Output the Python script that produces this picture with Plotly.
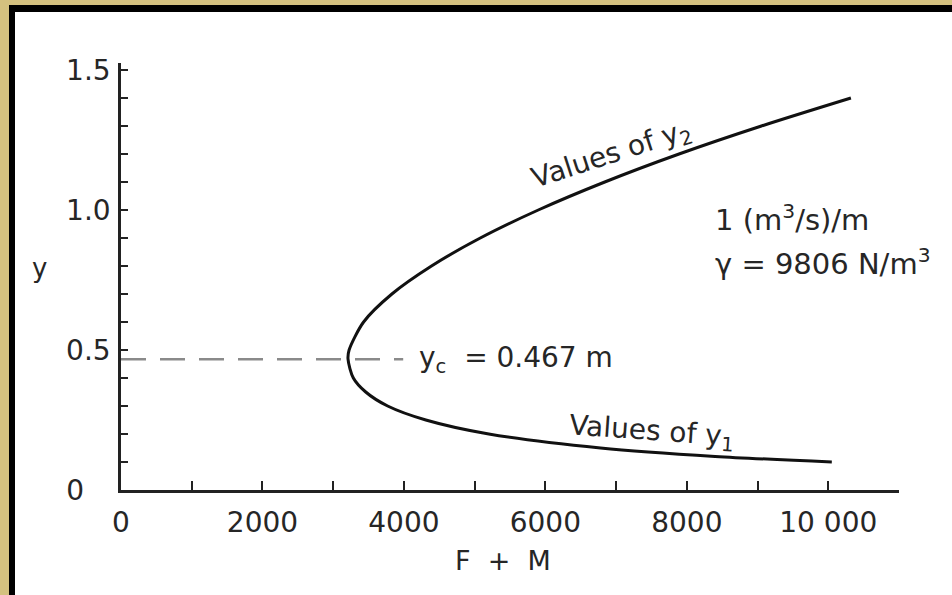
import plotly.graph_objects as go

# Data: depth y (m) vs F + M (N per m width)
depth_y = [0.10, 0.12, 0.15, 0.20, 0.25, 0.30, 0.35, 0.40, 0.467, 0.50, 0.60,
           0.70, 0.80, 0.90, 1.00, 1.10, 1.20, 1.30, 1.40]
f_plus_m = [10050, 8400, 6780, 5200, 4310, 3770, 3460, 3285, 3210, 3225, 3430,
            3830, 4390, 5080, 5900, 6840, 7890, 9055, 10320]
critical_depth = 0.467

x_tick_vals = [0, 1000, 2000, 3000, 4000, 5000, 6000, 7000, 8000, 9000, 10000, 11000]
x_tick_text = ["0", "", "2000", "", "4000", "", "6000", "", "8000", "", "10 000", ""]
y_tick_vals = [0, 0.1, 0.2, 0.3, 0.4, 0.5, 0.6, 0.7, 0.8, 0.9, 1.0, 1.1, 1.2, 1.3, 1.4, 1.5]
y_tick_text = ["0\u00a0\u00a0\u00a0", "", "", "", "", "0.5", "", "", "", "", "1.0", "", "", "", "", "1.5"]

FONT = "DejaVu Sans"
INK = "#262626"

fig = go.Figure()

# dashed critical-depth line
fig.add_trace(go.Scatter(
    x=[0, 3990], y=[critical_depth, critical_depth], mode="lines",
    line=dict(color="#8a8a8a", width=2.5, dash="25px,14px"),
    hoverinfo="skip", showlegend=False))

# curve
fig.add_trace(go.Scatter(
    x=f_plus_m, y=depth_y, mode="lines",
    line=dict(color="#111111", width=3, shape="spline", smoothing=0.8),
    showlegend=False))

annos = [
    dict(x=4185, y=critical_depth, xref="x", yref="y", xanchor="left", yanchor="middle",
         text="y<sub>c</sub>\u00a0\u00a0=\u00a00.467 m", font=dict(size=28)),
    dict(x=8370, y=0.971, xref="x", yref="y", xanchor="left", yanchor="middle",
         text="1 (m<sup>3</sup>/s)/m", font=dict(size=29)),
    dict(x=8370, y=0.814, xref="x", yref="y", xanchor="left", yanchor="middle",
         text="\u03b3\u00a0=\u00a09806 N/m<sup>3</sup>", font=dict(size=29)),
    dict(x=6930, y=1.195, xref="x", yref="y", xanchor="center", yanchor="middle",
         text="Values of y<sub>2</sub>", textangle=-18, font=dict(size=28)),
    dict(x=7507, y=0.205, xref="x", yref="y", xanchor="center", yanchor="middle",
         text="Values of y<sub>1</sub>", textangle=4, font=dict(size=28)),
    dict(x=-0.105, y=0.52, xref="paper", yref="paper", xanchor="center", yanchor="middle",
         text="y", font=dict(size=26)),
    dict(x=5400, y=-0.164, xref="x", yref="paper", xanchor="center", yanchor="middle",
         text="F\u00a0\u00a0+\u00a0\u00a0M", font=dict(size=27)),
]
for a in annos:
    a["showarrow"] = False
    a["font"]["family"] = FONT
    a["font"]["color"] = INK
    fig.add_annotation(**a)

shapes = [
    dict(type="rect", xref="paper", yref="paper", layer="below",
         x0=(9 - 121) / 778, x1=(960 - 121) / 778,
         y0=(490 - 600) / 427, y1=(490 - 5) / 427,
         fillcolor="#000000", line=dict(width=0)),
    dict(type="rect", xref="paper", yref="paper", layer="below",
         x0=(15 - 121) / 778, x1=(960 - 121) / 778,
         y0=(490 - 600) / 427, y1=(490 - 12) / 427,
         fillcolor="#ffffff", line=dict(width=0)),
]

fig.update_layout(
    width=952, height=595,
    margin=dict(l=121, r=53, t=63, b=105),
    paper_bgcolor="#d4c17f",
    plot_bgcolor="rgba(0,0,0,0)",
    font=dict(family=FONT, color=INK),
    shapes=shapes,
    xaxis=dict(range=[0, 11000], tickvals=x_tick_vals, ticktext=x_tick_text,
               ticks="inside", ticklen=9, tickwidth=2, tickcolor="#222",
               showline=True, linecolor="#222", linewidth=2.5,
               showgrid=False, zeroline=False,
               tickfont=dict(size=28, family=FONT, color=INK),
               ticklabelstandoff=6),
    yaxis=dict(range=[0, 1.525], tickvals=y_tick_vals, ticktext=y_tick_text,
               ticks="inside", ticklen=7, tickwidth=2, tickcolor="#222",
               showline=True, linecolor="#222", linewidth=2.5,
               showgrid=False, zeroline=False,
               tickfont=dict(size=28, family=FONT, color=INK),
               ticklabelstandoff=2),
)

fig.write_html("out.html",
               config={"displayModeBar": False},
               post_script="document.body.style.margin='0';document.body.style.overflow='hidden';")
